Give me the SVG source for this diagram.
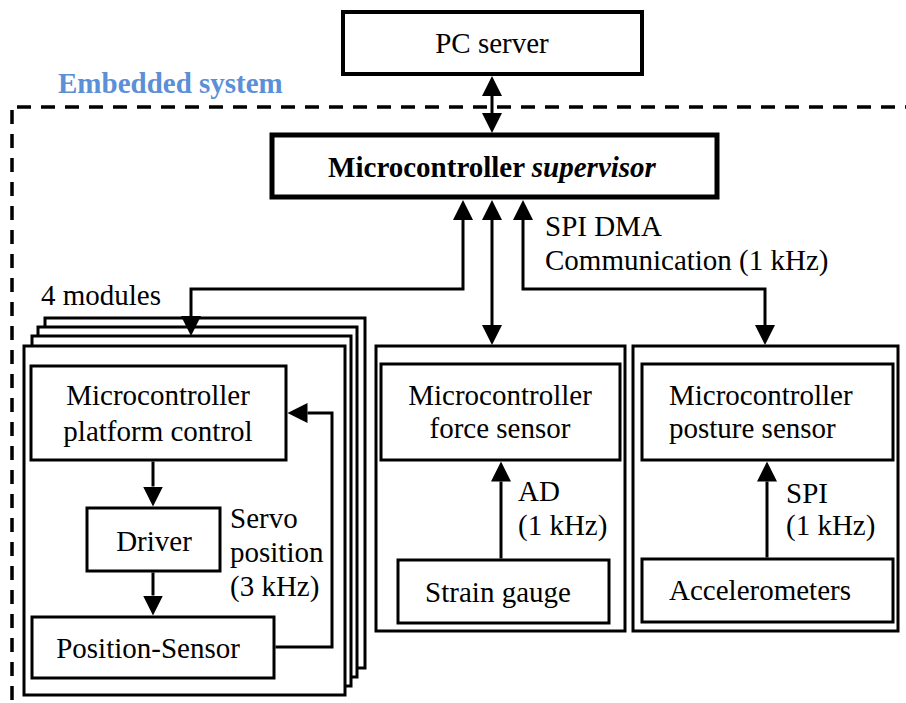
<svg xmlns="http://www.w3.org/2000/svg" width="906" height="703" viewBox="0 0 906 703">
<style>
text{font-family:"Liberation Serif","Times New Roman",serif;font-size:29px;fill:#000}
.c{text-anchor:middle}
.box{fill:#fff;stroke:#000;stroke-width:3}
.ln{fill:none;stroke:#000;stroke-width:3}
.dash{fill:none;stroke:#000;stroke-width:3.5;stroke-dasharray:14,10}
</style>
<defs>
<marker id="ah" viewBox="0 0 20 20" markerWidth="20" markerHeight="20" refX="0" refY="10" orient="auto-start-reverse" markerUnits="userSpaceOnUse">
<path d="M0,0 L20,10 L0,20 Z" fill="#000"/>
</marker>
</defs>
<rect width="906" height="703" fill="#fff"/>
<path class="dash" d="M17,107 H906"/>
<path class="dash" d="M12,110 V703"/>
<text x="58" y="93" font-weight="bold" style="fill:#5b8fd6">Embedded system</text>

<g id="pc-server">
<rect x="343" y="12" width="299" height="62" fill="#fff" stroke="#000" stroke-width="4"/>
<text x="492" y="53" class="c">PC server</text>
</g>
<g id="supervisor">
<rect x="272" y="135" width="445" height="62" fill="#fff" stroke="#000" stroke-width="5"/>
<text x="492" y="177" class="c" font-weight="bold">Microcontroller <tspan font-style="italic">supervisor</tspan></text>
</g>

<g id="platform-modules">
<rect class="box" x="45" y="318" width="320" height="350"/>
<rect class="box" x="38" y="327" width="319" height="350"/>
<rect class="box" x="32" y="336" width="319" height="350"/>
<rect class="box" x="24" y="346" width="321" height="349"/>
<text x="41" y="305">4 modules</text>
</g>
<g id="platform-control">
<rect class="box" x="31" y="366" width="255" height="94"/>
<text x="158" y="405" class="c">Microcontroller</text>
<text x="158" y="441" class="c">platform control</text>
</g>
<g id="driver">
<rect class="box" x="87" y="508" width="133" height="63"/>
<text x="154" y="551" class="c">Driver</text>
</g>
<g id="position-sensor">
<rect class="box" x="32" y="617" width="242" height="61"/>
<text x="148" y="658" class="c">Position-Sensor</text>
</g>
<text x="230" y="528">Servo</text>
<text x="230" y="562">position</text>
<text x="230" y="596">(3 kHz)</text>

<g id="force-module">
<rect class="box" x="376" y="346" width="249" height="285"/>
</g>
<g id="force-mc">
<rect class="box" x="381" y="364" width="239" height="96"/>
<text x="500" y="405" class="c">Microcontroller</text>
<text x="500" y="438" class="c">force sensor</text>
</g>
<g id="strain-gauge">
<rect class="box" x="398" y="560" width="211" height="63"/>
<text x="498" y="602" class="c">Strain gauge</text>
</g>
<text x="518" y="501">AD</text>
<text x="518" y="535">(1 kHz)</text>

<g id="posture-module">
<rect class="box" x="633" y="346" width="265" height="285"/>
</g>
<g id="posture-mc">
<rect class="box" x="642" y="364" width="251" height="96"/>
<text x="669" y="405">Microcontroller</text>
<text x="669" y="438">posture sensor</text>
</g>
<g id="accelerometers">
<rect class="box" x="642" y="559" width="251" height="63"/>
<text x="760" y="600" class="c">Accelerometers</text>
</g>
<text x="786" y="503">SPI</text>
<text x="786" y="535">(1 kHz)</text>

<text x="545" y="236">SPI DMA</text>
<text x="545" y="270">Communication (1 kHz)</text>

<g id="connectors">
<path class="ln" d="M492,96 V113" marker-start="url(#ah)" marker-end="url(#ah)"/>
<path class="ln" d="M191,316 V289 H463 V220" marker-start="url(#ah)" marker-end="url(#ah)"/>
<path class="ln" d="M492,325 V220" marker-start="url(#ah)" marker-end="url(#ah)"/>
<path class="ln" d="M765,325 V289 H523 V220" marker-start="url(#ah)" marker-end="url(#ah)"/>
<path class="ln" d="M153,461.5 V486.5" marker-end="url(#ah)"/>
<path class="ln" d="M153,572.5 V595.5" marker-end="url(#ah)"/>
<path class="ln" d="M275.5,647 H332 V413 H307.5" marker-end="url(#ah)"/>
<path class="ln" d="M501,558.5 V481.5" marker-end="url(#ah)"/>
<path class="ln" d="M767,557.5 V481.5" marker-end="url(#ah)"/>
</g>
</svg>
